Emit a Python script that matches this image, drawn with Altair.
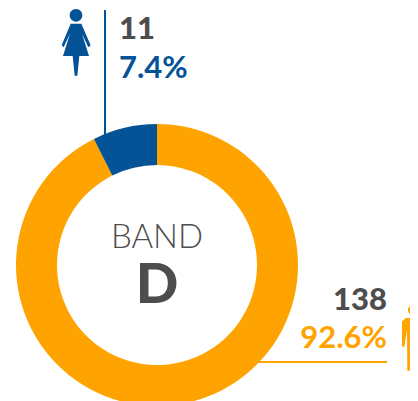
import altair as alt
import pandas as pd

genders = ["Male", "Female"]
counts = [138, 11]
shares = ["92.6%", "7.4%"]
band_word = "BAND"
band_letter = "D"
ORANGE = "#FFA300"
BLUE = "#045397"
GREY = "#4D4D4D"
FONT = "Lato"


def icon(points, head, c, scale):
    """Normalised SVG path: one polygon plus a round head, from zoomed picture units."""
    cx, cy = c
    n = lambda x, y: f"{(x - cx) / scale:.3f} {(y - cy) / scale:.3f}"
    d = "M" + " L".join(n(x, y) for x, y in points) + " Z "
    hx, hy, r = head
    rr = r / scale
    d += f"M{n(hx - r, hy)} A{rr:.3f} {rr:.3f} 0 1 1 {n(hx + r, hy)} A{rr:.3f} {rr:.3f} 0 1 1 {n(hx - r, hy)} Z"
    return d


female = icon(
    [(63, 70), (95, 70), (123, 135), (116, 141), (97, 100), (118, 167), (89, 167), (83, 226),
     (75, 226), (69, 167), (40, 167), (61, 100), (42, 141), (36, 135)],
    (79, 45, 19), (79, 125), 99)
male = icon(
    [(376, 114), (420, 114), (431, 125), (431, 200), (424, 200), (416, 150), (415, 272), (401, 272),
     (400, 205), (396, 205), (395, 272), (381, 272), (380, 150), (372, 200), (365, 200), (365, 125)],
    (398, 90, 15), (398, 180), 99)

df = pd.DataFrame({"gender": genders, "count": counts, "share": shares, "order": [0, 1]})
base = alt.Chart(df)
male_row = base.transform_filter(alt.datum.gender == "Male")
female_row = base.transform_filter(alt.datum.gender == "Female")

donut = base.mark_arc(outerRadius=141, innerRadius=100).encode(
    theta=alt.Theta("count:Q", stack=True),
    order=alt.Order("order:Q"),
    color=alt.Color("gender:N", scale=alt.Scale(domain=genders, range=[ORANGE, BLUE]), legend=None),
    x=alt.value(149), y=alt.value(257),
)

blue_rule = female_row.mark_rule(color=BLUE, strokeWidth=2).encode(
    x=alt.value(97), y=alt.value(2), y2=alt.value(128))
orange_rule = male_row.mark_rule(color=ORANGE, strokeWidth=2).encode(
    x=alt.value(247), x2=alt.value(379), y=alt.value(354))


def label(src, field, x, y, size, color, align, weight):
    return src.mark_text(font=FONT, fontWeight=weight, fontSize=size, color=color, align=align,
                         baseline="alphabetic").encode(
        text=alt.Text(field), x=alt.value(x), y=alt.value(y))


female_count = label(female_row, "count:Q", 111, 31, 31, GREY, "left", 900)
female_share = label(female_row, "share:N", 111, 70, 31, BLUE, "left", "bold")
male_count = label(male_row, "count:Q", 379, 302, 31, GREY, "right", 900)
male_share = label(male_row, "share:N", 379, 340, 31, ORANGE, "right", "bold")

band = alt.Chart(pd.DataFrame({"t": [band_word]})).mark_text(
    font=FONT, fontWeight=300, fontSize=33, color=GREY, align="center", baseline="alphabetic"
).encode(text="t:N", x=alt.value(149), y=alt.value(240))
letter = alt.Chart(pd.DataFrame({"t": [band_letter]})).mark_text(
    font=FONT, fontWeight=900, fontSize=56, color=GREY, align="center", baseline="alphabetic"
).encode(text="t:N", x=alt.value(149), y=alt.value(295))

female_icon = female_row.mark_point(shape=female, filled=True, opacity=1, color=BLUE, size=4356, strokeWidth=0).encode(
    x=alt.value(68), y=alt.value(34))
male_icon = male_row.mark_point(shape=male, filled=True, opacity=1, color=ORANGE, size=4356, strokeWidth=0).encode(
    x=alt.value(405), y=alt.value(332))

chart = alt.layer(
    blue_rule, orange_rule, donut, female_count, female_share, male_count, male_share,
    band, letter, female_icon, male_icon,
).properties(width=402, height=393, padding=0, autosize=alt.AutoSizeParams(type="none")).configure_view(stroke=None)

chart.save("out.html", embed_options={"renderer": "svg", "actions": False})
